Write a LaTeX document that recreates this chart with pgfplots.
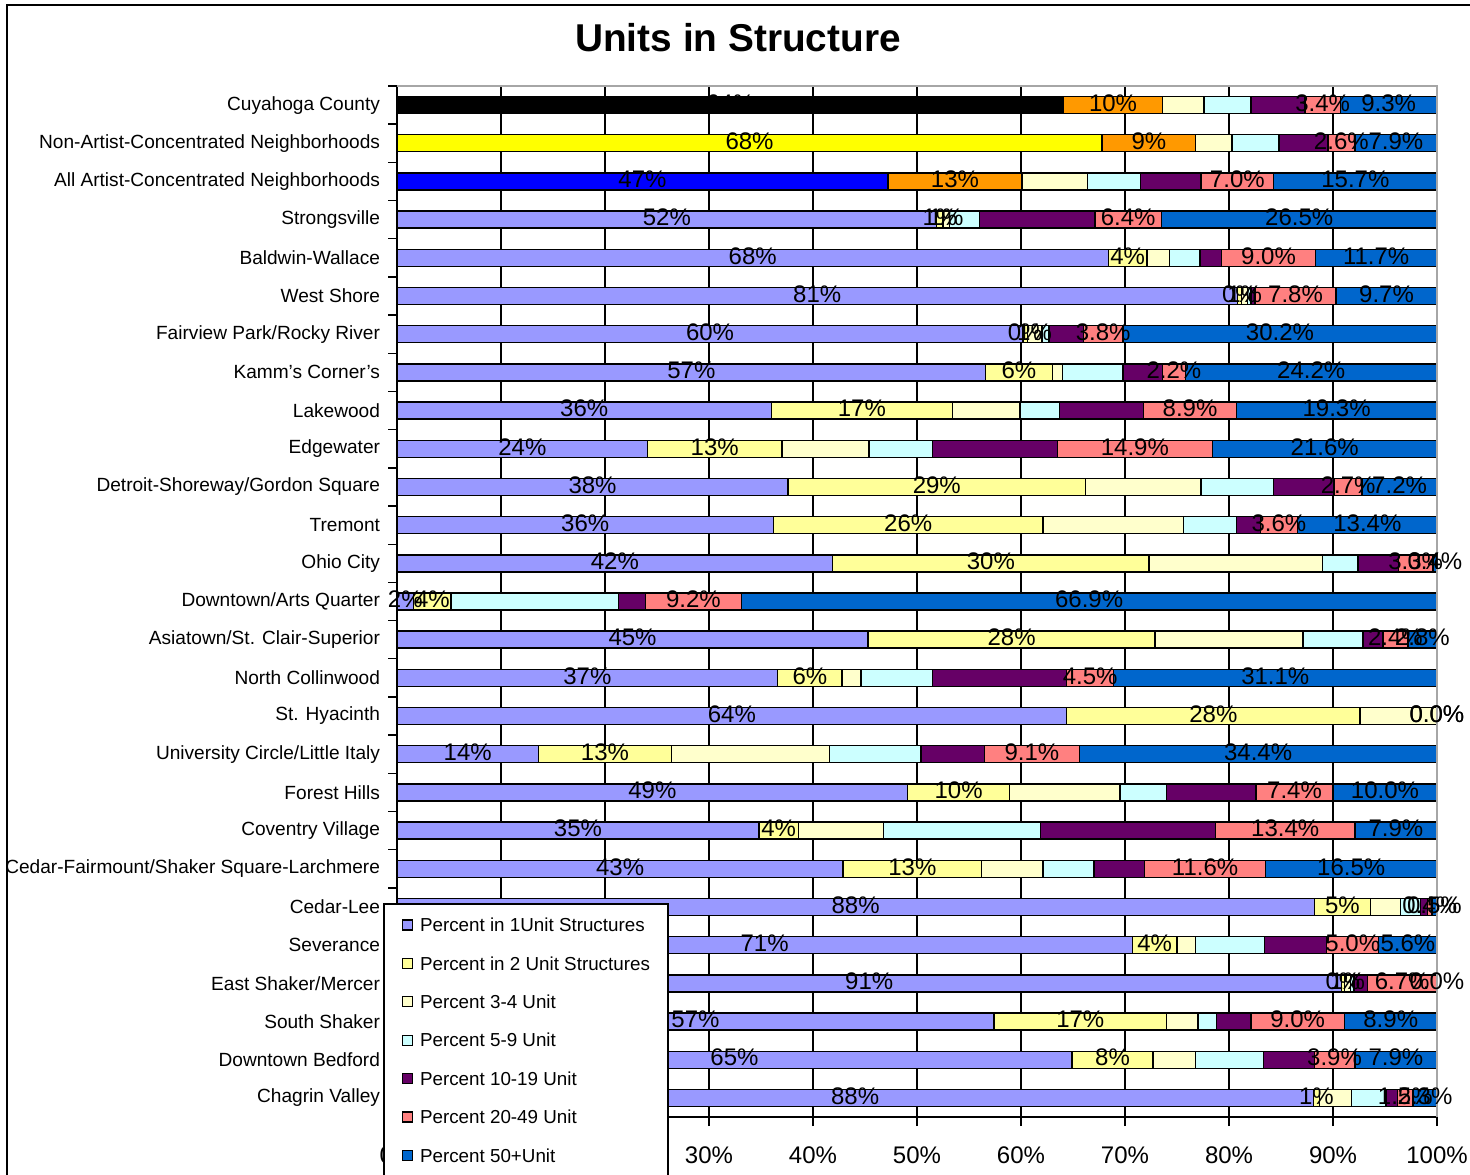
\documentclass[border=0pt]{standalone}
\usepackage{fontspec}
\setmainfont{Liberation Sans}
\usepackage{pgfplots}
\usepackage{pgfplotstable}
\pgfplotsset{compat=1.18}
\definecolor{cA}{HTML}{9999FF}
\definecolor{cB}{HTML}{FFFF99}
\definecolor{cC}{HTML}{FFFFCC}
\definecolor{cD}{HTML}{CCFFFF}
\definecolor{cE}{HTML}{660066}
\definecolor{cF}{HTML}{FF8080}
\definecolor{cG}{HTML}{0066CC}
\definecolor{cOr}{HTML}{FF9900}
\definecolor{cYe}{HTML}{FFFF00}
\definecolor{cBl}{HTML}{0000FF}

\pgfplotstableread{
y  a    b    c    d    e    f    g    s
26 64.1 9.5  4.0  4.5  5.2  3.4  9.3  0
25 67.8 9.0  3.5  4.5  4.7  2.6  7.9  0
24 47.2 12.9 6.3  5.1  5.8  7.0  15.7 0
23 51.9 0.6  0.6  2.9  11.1 6.4  26.5 1
22 68.4 3.7  2.2  2.9  2.1  9.0  11.7 0
21 80.8 0.4  0.6  0.3  0.4  7.8  9.7  1
20 60.2 0.4  1.4  0.7  3.3  3.8  30.2 1
19 56.6 6.4  1.0  5.8  3.8  2.2  24.2 0
18 36.0 17.4 6.5  3.8  8.1  8.9  19.3 0
17 24.1 12.9 8.4  6.1  12.0 14.9 21.6 0
16 37.6 28.6 11.1 7.0  5.8  2.7  7.2  0
15 36.2 25.9 13.5 5.1  2.3  3.6  13.4 0
14 41.9 30.4 16.7 3.4  3.9  3.3  0.4  0
13 1.6  3.6  0.0  16.1 2.6  9.2  66.9 0
12 45.3 27.6 14.2 5.8  1.9  2.4  2.8  0
11 36.6 6.2  1.8  6.9  12.9 4.5  31.1 0
10 64.4 28.2 7.37 0.0  0.01 0.01 0.01 0
9  13.6 12.8 15.2 8.8  6.1  9.1  34.4 0
8  49.1 9.8  10.6 4.5  8.6  7.4  10.0 0
7  34.8 3.8  8.2  15.1 16.8 13.4 7.9  0
6  42.9 13.3 5.9  4.9  4.9  11.6 16.5 0
5  88.2 5.4  2.9  1.9  0.7  0.4  0.5  0
4  70.7 4.3  1.8  6.6  6.0  5.0  5.6  0
3  90.8 0.3  0.6  0.3  1.3  6.69 0.01 1
2  57.4 16.6 3.0  1.8  3.3  9.0  8.9  0
1  64.9 7.8  4.1  6.5  4.9  3.9  7.9  0
0  88.1 0.6  3.1  3.3  1.1  1.5  2.3  0
}\data

\pgfplotstableread{
y  end
26 73.6
25 76.8
24 60.1
}\orangedata

\newcommand{\catfont}{\fontsize{9.55}{11}\selectfont}
\newcommand{\legfont}{\fontsize{9.4}{11}\selectfont}
\newcommand{\labfont}{\fontsize{12}{14}\selectfont}

\pgfplotsset{
  intlab/.style={nodes near coords={\pgfmathprintnumber[fixed,precision=0]{\segval}\%}},
  declab/.style={nodes near coords={\pgfmathprintnumber[fixed,fixed zerofill,precision=1]{\segval}\%}},
  segstyle/.style={draw=black, line width=0.7pt},
  invis/.style={draw=none, fill=none},
  frame geometry/.style={
    at={(198.5pt,28.5pt)}, anchor=south west,
    scale only axis, width=520pt, height=515.5pt,
    xmin=0, xmax=100, ymin=-0.5, ymax=26.5,
  },
}

\begin{document}
\begin{tikzpicture}
\useasboundingbox (0,0) rectangle (735pt,587pt);
\clip (0,0) rectangle (735pt,587pt);
\fill[white] (0,0) rectangle (735pt,587pt);
\draw[line width=1pt] (3.5pt,-2pt) -- (3.5pt,584.5pt) -- (740pt,584.5pt);
\node[font=\bfseries\fontsize{19.4}{23}\selectfont] at (369pt,568pt) {Units in Structure};

% main bars, axes, legend
\begin{axis}[
  frame geometry,
  xbar stacked, bar width=8.5pt,
  axis lines*=left, axis line style={black, line width=0.8pt, -},
  tick align=outside, tick pos=left,
  xtick={0,10,...,100},
  xticklabel={\pgfmathprintnumber{\tick}\%},
  x tick label style={font=\labfont, anchor=north, inner sep=0pt},
  xticklabel shift=10pt,
  xmajorgrids, major grid style={black, line width=0.6pt},
  major tick length=4.5pt,
  ytick={-0.5,0.5,...,26.5},
  yticklabels={},
  extra y ticks={0,1,...,26},
  extra y tick labels={Chagrin Valley, Downtown Bedford, South Shaker, East Shaker/Mercer, Severance, Cedar-Lee, Cedar-Fairmount/Shaker Square-Larchmere, Coventry Village, Forest Hills, University Circle/Little Italy, St. Hyacinth, North Collinwood, Asiatown/St. Clair-Superior, Downtown/Arts Quarter, Ohio City, Tremont, Detroit-Shoreway/Gordon Square, Edgewater, Lakewood, Kamm's Corner's, Fairview Park/Rocky River, West Shore, Baldwin-Wallace, Strongsville, All Artist-Concentrated Neighborhoods, Non-Artist-Concentrated Neighborhoods, Cuyahoga County},
  extra y tick style={major tick length=0pt, yticklabel shift=8.3pt,
    y tick label style={font=\catfont, anchor=east, inner sep=0pt}},
  every tick/.append style={black, line width=0.7pt},
  /pgf/number format/assume math mode=true,
  legend cell align=left,
  every axis plot post/.append style={legend image code/.code={\draw[##1, line width=0.6pt] (0pt,-1.6pt) rectangle (5pt,3.4pt); \path (8.5pt,0pt);}},
  legend style={at={(-0.0135,0.2076)}, anchor=north west, draw=black, line width=0.8pt, fill=white,
    font=\legfont, inner xsep=9pt, inner ysep=7pt, row sep=10.2pt,
    nodes={inner sep=0pt, text height=7pt, text depth=2pt}},
  after end axis/.code={\draw[gray!70, line width=1pt] (rel axis cs:0,1) -- (rel axis cs:1,1) -- (rel axis cs:1,0);},
]
\addplot[segstyle, fill=cA] table[x=a,y=y]{\data};
\addlegendentry{Percent in 1Unit Structures}
\addplot[segstyle, fill=cB] table[x=b,y=y]{\data};
\addlegendentry{Percent in 2 Unit Structures}
\addplot[segstyle, fill=cC] table[x=c,y=y]{\data};
\addlegendentry{Percent 3-4 Unit}
\addplot[segstyle, fill=cD] table[x=d,y=y]{\data};
\addlegendentry{Percent 5-9 Unit}
\addplot[segstyle, fill=cE] table[x=e,y=y]{\data};
\addlegendentry{Percent 10-19 Unit}
\addplot[segstyle, fill=cF] table[x=f,y=y]{\data};
\addlegendentry{Percent 20-49 Unit}
\addplot[segstyle, fill=cG] table[x=g,y=y]{\data};
\addlegendentry{Percent 50+Unit}
\end{axis}

% specially coloured first three rows
\begin{axis}[
  frame geometry, hide axis, xbar, bar width=8.5pt,
]
\addplot[bar shift=0pt, segstyle, fill=cOr] table[x=end,y=y]{\orangedata};
\addplot[bar shift=0pt, segstyle, fill=black] coordinates {(64.1,26)};
\addplot[bar shift=0pt, segstyle, fill=cYe] coordinates {(67.8,25)};
\addplot[bar shift=0pt, segstyle, fill=cBl] coordinates {(47.2,24)};
\end{axis}

% data labels on top of everything (pgfplots centres them in each segment)
\begin{axis}[
  frame geometry, hide axis, xbar stacked, bar width=8.5pt,
  /pgf/number format/assume math mode=true,
  every node near coord/.append style={anchor=center, yshift=1pt, font=\labfont, inner sep=0pt, text=black},
]
\addplot[invis, visualization depends on={\thisrow{a} \as \segval}, intlab] table[x=a,y=y]{\data};
\addplot[invis, visualization depends on={\thisrow{b} \as \segval}, intlab] table[x=b,y=y]{\data};
\addplot[invis, visualization depends on={\thisrow{c} \as \segval}, visualization depends on={\thisrow{s} \as \showlab},
  nodes near coords={\ifdim\showlab pt>0.5pt \pgfmathprintnumber[fixed,precision=0]{\segval}\%\fi}] table[x=c,y=y]{\data};
\addplot[invis] table[x=d,y=y]{\data};
\addplot[invis] table[x=e,y=y]{\data};
\addplot[invis, visualization depends on={\thisrow{f} \as \segval}, declab] table[x=f,y=y]{\data};
\addplot[invis, visualization depends on={\thisrow{g} \as \segval}, declab] table[x=g,y=y]{\data};
\end{axis}
\end{tikzpicture}
\end{document}
